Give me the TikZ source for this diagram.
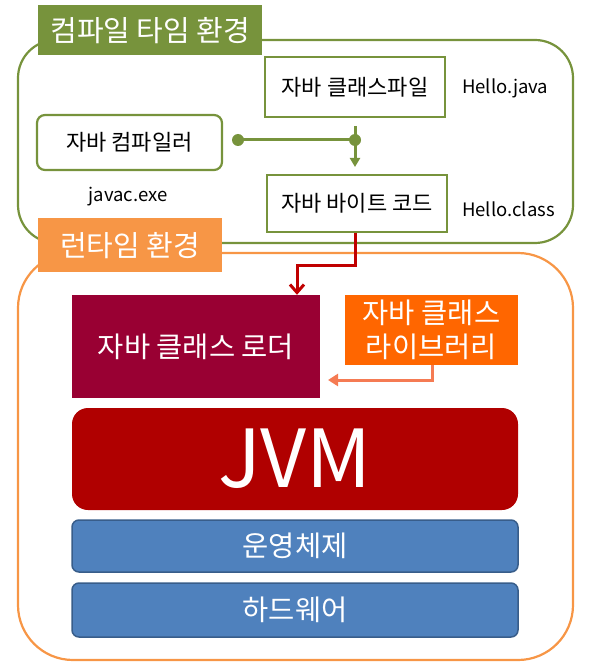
\documentclass[tikz,border=0pt]{standalone}
\usepackage{fontspec}
\setmainfont{Noto Sans CJK KR}
\usetikzlibrary{arrows.meta}
\definecolor{olive}{HTML}{77933C}
\definecolor{orng}{HTML}{F79646}
\definecolor{loader}{HTML}{990033}
\definecolor{libor}{HTML}{FF6600}
\definecolor{jvmred}{HTML}{B00000}
\definecolor{blu}{HTML}{4F81BD}
\definecolor{bluedge}{HTML}{385D8A}
\definecolor{salmon}{HTML}{F57B53}
\definecolor{darkred}{HTML}{C00000}
\begin{document}
\begin{tikzpicture}[x=1pt,y=-1pt,
  envbox/.style={draw, line width=2.2pt, rounded corners=38pt},
  title/.style={anchor=north west, inner sep=0pt, text=white},
  titletext/.style={text=white, font=\fontsize{29}{34}\selectfont},
  wbox/.style={draw=olive, line width=2.2pt, fill=white, inner sep=0pt, font=\fontsize{22}{26}\selectfont},
  lbl/.style={font=\fontsize{18.5}{22}\selectfont, inner sep=0pt},
  cbox/.style={inner sep=0pt, text=white, font=\fontsize{28.5}{33}\selectfont},
  layer/.style={draw=bluedge, line width=1.5pt, fill=blu, rounded corners=7pt, inner sep=0pt, text=white, font=\fontsize{28.5}{33}\selectfont}
]
\useasboundingbox (0,0) rectangle (594,668);
% compile-time environment
\draw[envbox, draw=olive] (18,40) rectangle (573,243);
\node[title, fill=olive, minimum width=224pt, minimum height=50pt] (ct) at (38,5) {};
\node[titletext] at (ct.center) {컴파일 타임 환경};
\node[wbox, minimum width=180pt, minimum height=60pt] (src) at (355,87) {자바 클래스파일};
\node[lbl, anchor=west] (hj) at (462,88) {Hello.java};
\node[wbox, rounded corners=8pt, minimum width=185pt, minimum height=55pt] (comp) at (129.5,142.5) {자바 컴파일러};
\node[lbl] (jx) at (128,197) {javac.exe};
\node[wbox, minimum width=180pt, minimum height=57pt] (bc) at (357,203.5) {자바 바이트 코드};
\node[lbl, anchor=west] (hc) at (462,209) {Hello.class};
\coordinate (d1) at (238,140);
\coordinate (d2) at (355,140);
\coordinate (vtop) at (355,126);
\coordinate (vbot) at (355,167);
\draw[olive, line width=3pt] (d1) -- (d2);
\draw[olive, line width=3pt, -{Triangle[length=9pt,width=10pt]}] (vtop) -- (vbot);
\fill[olive] (d1) circle (6pt) (d2) circle (6pt);
% runtime environment
\draw[envbox, draw=orng, rounded corners=55pt] (18,253) rectangle (573,660);
\node[title, fill=orng, minimum width=184pt, minimum height=54pt] (rt) at (38,218) {};
\node[titletext] at (rt.center) {런타임 환경};
\node[cbox, fill=loader, minimum width=248pt, minimum height=103pt] (cl) at (196,346.5) {자바 클래스 로더};
\node[cbox, fill=libor, minimum width=173pt, minimum height=70pt, align=center, font=\fontsize{28.5}{34}\selectfont] (lib) at (431.5,330) {자바 클래스\\라이브러리};
\node[cbox, fill=jvmred, rounded corners=16pt, minimum width=446pt, minimum height=102pt, font=\fontsize{80}{90}\selectfont] (jvm) at (295,459) {JVM};
\node[layer, minimum width=446pt, minimum height=52pt] (os) at (295,546) {운영체제};
\node[layer, minimum width=446pt, minimum height=54pt] (hw) at (295,610) {하드웨어};
% arrows
\coordinate (r1) at (355,265);
\coordinate (r2) at (297,265);
\draw[darkred, line width=3pt, -{Straight Barb[length=8pt,width=14pt]}] (bc.south -| r1) -- (r1) -- (r2) -- (r2 |- cl.north);
\coordinate (s1) at (432,380);
\coordinate (s2) at (328,380);
\draw[salmon, line width=3pt, -{Triangle[length=10pt,width=12pt]}] (lib.south -| s1) -- (s1) -- (s2);
\end{tikzpicture}
\end{document}
